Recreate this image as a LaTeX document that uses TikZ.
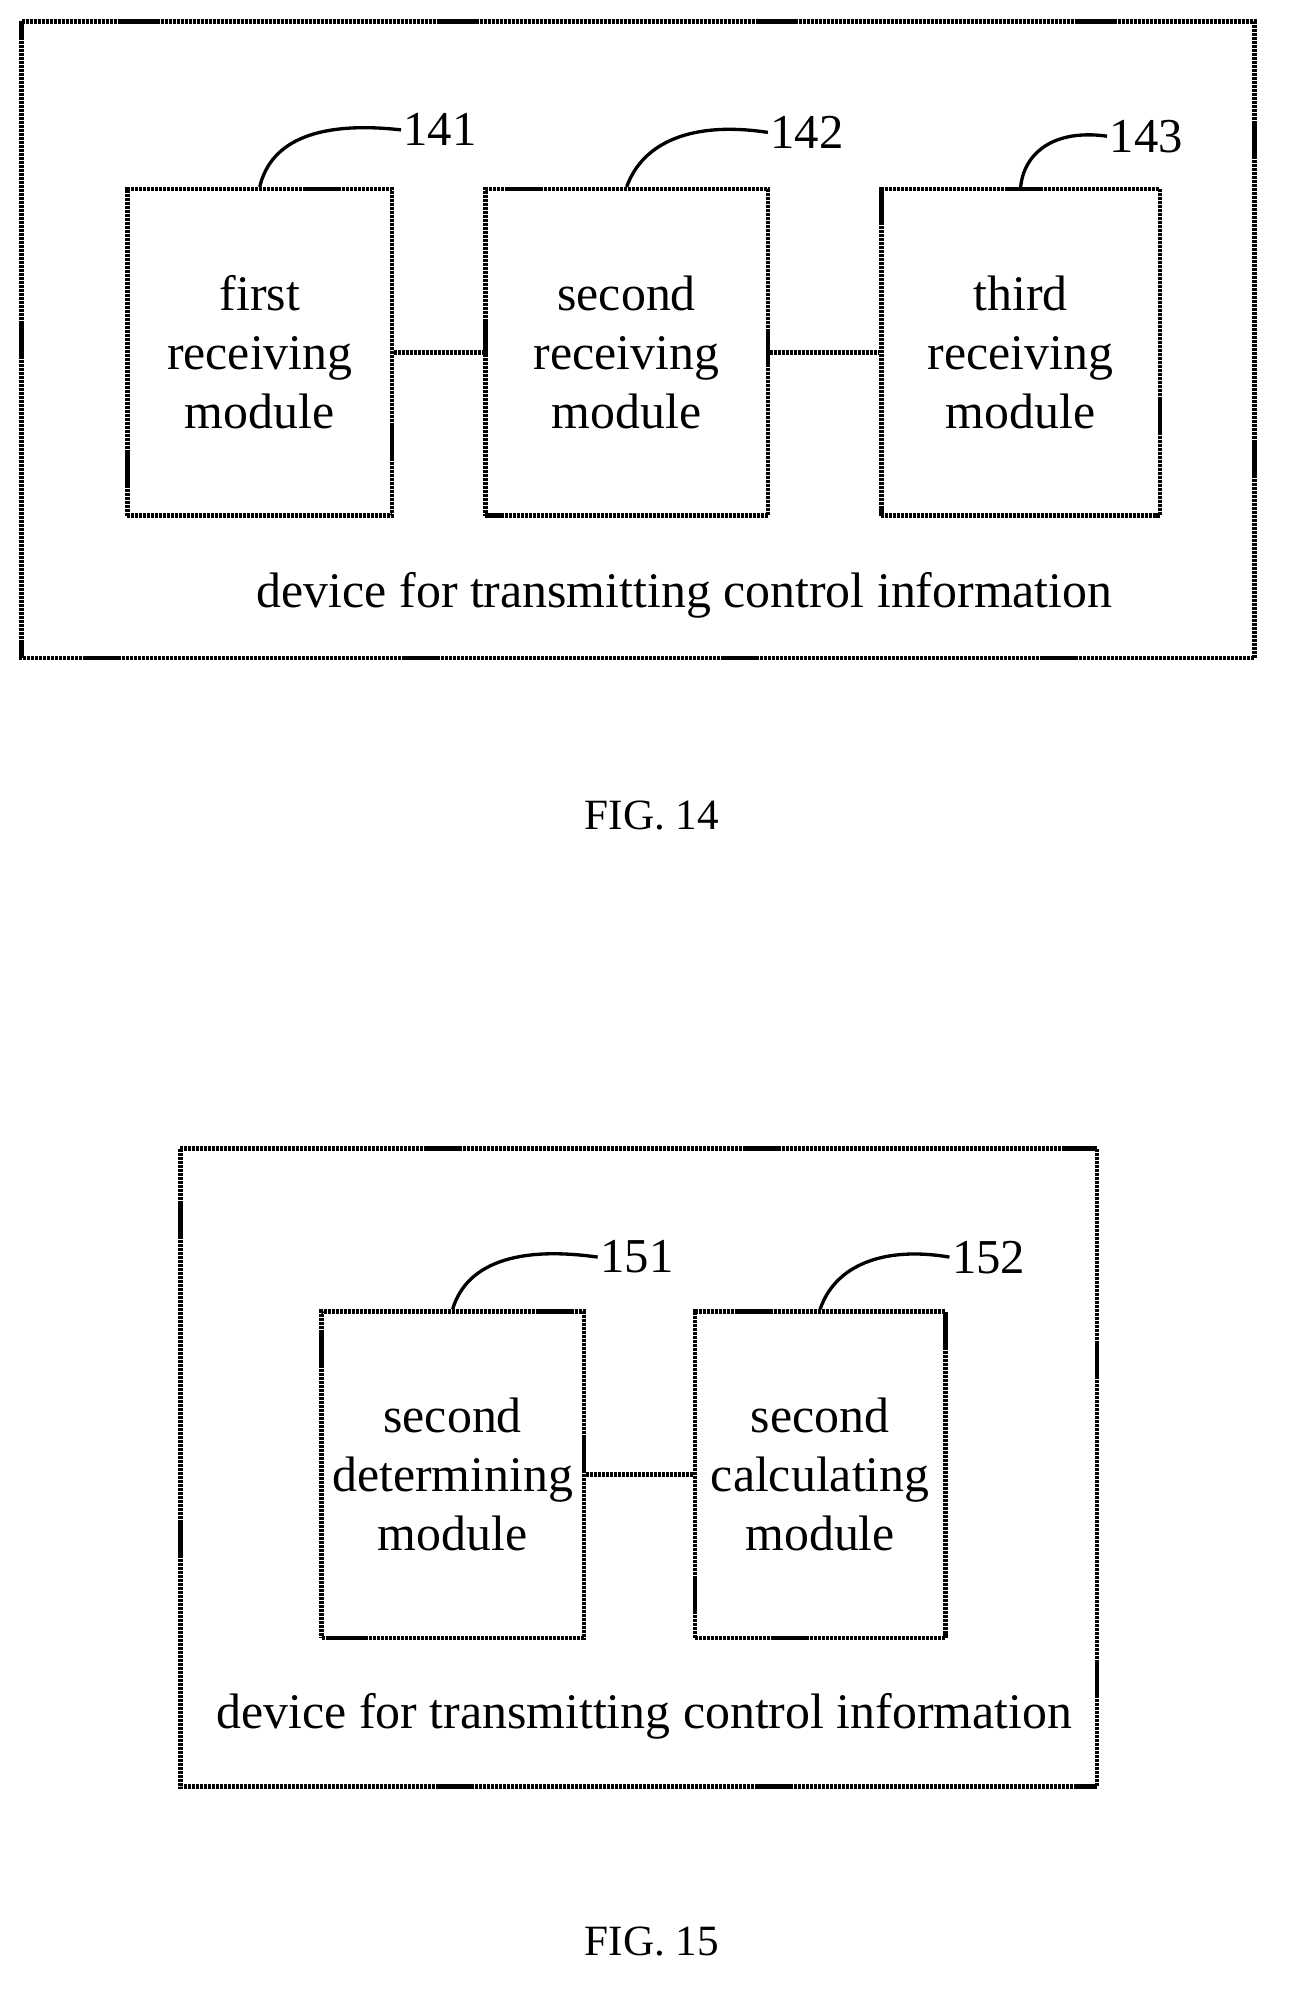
\documentclass[tikz,border=0pt]{standalone}
\usepackage{fontspec}
\setmainfont{Liberation Serif}
\begin{document}
\begin{tikzpicture}
[
  x=0.02cm, y=-0.02cm,
  frame/.style={draw, line width=2pt, dash pattern=on 1.4pt off 0.4pt},
  module/.style={frame, minimum width=#1*0.02cm, minimum height=259*0.02cm,
    align=center, font=\fontsize{22.5}{26.7}\selectfont},
  link/.style={line width=2pt, dash pattern=on 1.4pt off 0.4pt},
  lead/.style={line width=1.5pt},
  num/.style={anchor=west, inner sep=1pt, font=\fontsize{22}{25}\selectfont},
  devtext/.style={font=\fontsize{22.5}{26}\selectfont},
  fig/.style={font=\fontsize{19.5}{22}\selectfont}
]
\useasboundingbox (0,0) rectangle (1024,1587);

% FIG. 14
\draw[frame] (17,17) rectangle (995,522);
\node[module=210] (first) at (206,279.5) {first\\receiving\\module};
\node[module=224] (second) at (497,279.5) {second\\receiving\\module};
\node[module=221] (third) at (809.5,279.5) {third\\receiving\\module};
\draw[link] (first) -- (second);
\draw[link] (second) -- (third);
\node[num] (n141) at (318,103) {141};
\node[num] (n142) at (609,105) {142};
\node[num] (n143) at (878,108) {143};
\draw[lead] (first.north) .. controls (215,110) and (255,96) .. (n141.west);
\draw[lead] (second.north) .. controls (510,112) and (550,96) .. (n142.west);
\draw[lead] (third.north) .. controls (812,122) and (835,102) .. (n143.west);
\node[devtext] (dev14) at (543,472) {device for transmitting control information};
\node[fig] (fig14) at (517,647) {FIG. 14};

% FIG. 15
\draw[frame] (143,911) rectangle (870,1417);
\node[module=208] (determ) at (359,1169.5) {second\\determining\\module};
\node[module=199] (calc) at (650.5,1169.5) {second\\calculating\\module};
\draw[link] (determ) -- (calc);
\node[num] (n151) at (474,997) {151};
\node[num] (n152) at (753,997) {152};
\draw[lead] (determ.north) .. controls (370,1002) and (410,988) .. (n151.west);
\draw[lead] (calc.north) .. controls (662,1004) and (700,988) .. (n152.west);
\node[devtext] (dev15) at (511,1361) {device for transmitting control information};
\node[fig] (fig15) at (517,1540) {FIG. 15};
\end{tikzpicture}
\end{document}
